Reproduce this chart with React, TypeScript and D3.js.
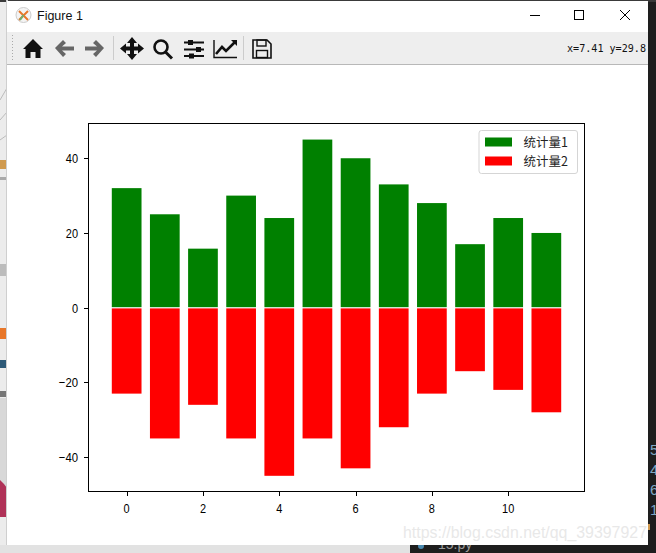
import React, { useMemo } from "react";
import * as d3 from "d3";

const categories = [0, 1, 2, 3, 4, 5, 6, 7, 8, 9, 10, 11];
const series1 = [32, 25, 15.8, 30, 24, 45, 40, 33, 28, 17, 24, 20];
const series2 = [-23, -35, -26, -35, -45, -35, -43, -32, -23, -17, -22, -28];
const xTicks = [0, 2, 4, 6, 8, 10];
const yTicks = [-40, -20, 0, 20, 40];
const legendLabels = ["统计量1", "统计量2"];
const title = "Figure 1";
const coords = "x=7.41 y=29.8";
const sideDigits = ["5", "4", "6", "1"];
const FONT = "'Noto Sans CJK SC', 'Liberation Sans', sans-serif";
const TICK = "'Liberation Sans', sans-serif";

const tickWidth = (s: string) => s.replace("−", "").length * 6.1 + (s.startsWith("−") ? 7 : 0);

function App() {
  const x = useMemo(() => d3.scaleLinear().domain([-1, 12]).range([88.5, 584.5]), []);
  const y = useMemo(() => d3.scaleLinear().domain([-49.2, 49.3]).range([491.5, 123.5]), []);
  const bw = x(0.8) - x(0) - 0.8;
  return (
    <svg width={656} height={553} style={{ position: "absolute", left: 0, top: 0, background: "#fff" }}>
      <defs>
        <filter id="soft"><feGaussianBlur stdDeviation="0.6" /></filter>
      </defs>
      {/* backdrop */}
      <rect x={0} y={0} width={656} height={553} fill="#ececec" />
      <rect x={648} y={0} width={8} height={553} fill="#1e1e1e" />
      <rect x={0} y={0} width={656} height={2} fill="#3a3a3a" />
      <rect x={0} y={545} width={410} height={8} fill="#e2e2e2" />
      <rect x={410} y={545} width={246} height={8} fill="#1e1e1e" />
      <g filter="url(#soft)">
        <rect x={0} y={264} width={7} height={12} fill="#bcbcbc" />
        <rect x={0} y={177} width={7} height={3} fill="#aaa" />
        <rect x={0} y={328} width={7} height={11} fill="#e8772a" />
        <rect x={0} y={360} width={7} height={8} fill="#2f5a78" />
        <rect x={0} y={391} width={7} height={6} fill="#777" />
        <rect x={0} y={398} width={7} height={90} fill="#d8d8d8" />
        <path d="M0 480 L4 484 L7 488 V517 H0 Z" fill="#b03058" />
        <rect x={0} y={160} width={7} height={9} fill="#d09a50" />
        <path d="M0 100 L7 88 M0 120 L7 112 M0 140 L7 135" stroke="#bbb" />
      </g>
      <text x={438} y={549} fontSize={14} fontFamily={TICK} fill="#9a9a9a">15.py</text>
      <circle cx={421} cy={546} r={3} fill="#4a8ab0" />
      <rect x={648} y={524} width={2} height={6} fill="#d09a50" />
      {sideDigits.map((d, i) => (
        <text key={i} x={650} y={455 + i * 20} fontSize={15} fontFamily={TICK} fill="#7fa8c4">{d}</text>
      ))}
      <line x1={7} x2={7} y1={0} y2={545} stroke="#cfcfcf" strokeWidth={2} />
      {/* window */}
      <rect x={7} y={1} width={641} height={544} fill="#fff" />
      <rect x={7} y={32} width={641} height={32} fill="#eeeeee" />
      <line x1={7} x2={648} y1={64.5} y2={64.5} stroke="#b8b8b8" />
      <circle cx={23.5} cy={15} r={7.5} fill="#f4f4f4" stroke="#ccc" />
      <path d="M19 11 L28 20 M28 11 L19 20" stroke="#e8772a" strokeWidth={2} />
      <path d="M23.5 15 L20 20" stroke="#70b070" strokeWidth={2} />
      <text x={37} y={20} fontSize={12.5} fontFamily={TICK} fill="#111">{title}</text>
      {/* window buttons */}
      <line x1={530} x2={540} y1={15.5} y2={15.5} stroke="#000" />
      <rect x={574.5} y={10.5} width={9} height={9} fill="none" stroke="#000" />
      <path d="M620 10 L630 20 M630 10 L620 20" stroke="#000" />
      {/* toolbar */}
      <line x1={12.5} x2={12.5} y1={35} y2={61} stroke="#aaa" strokeDasharray="1 2" />
      <path d="M33 39 L43 49 L40.5 49 L40.5 58 L35.5 58 L35.5 52 L30.5 52 L30.5 58 L25.5 58 L25.5 49 L23 49 Z" fill="#111" />
      <path d="M55 48 L63 40 L66 43 L62 46.5 L74 46.5 L74 50.5 L62 50.5 L66 54 L63 57 Z" fill="#666" />
      <path d="M104 48 L96 40 L93 43 L97 46.5 L85 46.5 L85 50.5 L97 50.5 L93 54 L96 57 Z" fill="#666" />
      <line x1={113.5} x2={113.5} y1={36} y2={60} stroke="#ccc" />
      <path d="M132 37 L137 43 L134 43 L134 46.5 L138 46.5 L138 43.5 L144 48.5 L138 53.5 L138 50.5 L134 50.5 L134 54 L137 54 L132 60 L127 54 L130 54 L130 50.5 L126 50.5 L126 53.5 L120 48.5 L126 43.5 L126 46.5 L130 46.5 L130 43 L127 43 Z" fill="#111" />
      <circle cx={161} cy={47} r={6.5} fill="none" stroke="#111" strokeWidth={2.6} />
      <line x1={165.5} y1={52} x2={172} y2={58.5} stroke="#111" strokeWidth={3} />
      <g stroke="#111" strokeWidth={2}>
        <line x1={184} x2={204} y1={42.5} y2={42.5} />
        <line x1={184} x2={204} y1={49.5} y2={49.5} />
        <line x1={184} x2={204} y1={56} y2={56} />
      </g>
      <rect x={188} y={40} width={5} height={5} fill="#111" />
      <rect x={196} y={47} width={5} height={5} fill="#111" />
      <rect x={189} y={53.5} width={5} height={5} fill="#111" />
      <path d="M214 40 V57.5 H237" fill="none" stroke="#111" strokeWidth={1.4} />
      <path d="M216 54 L222 47 L226 51 L235 42" fill="none" stroke="#111" strokeWidth={2.6} />
      <path d="M231 40 L237 40 L237 46 Z" fill="#111" />
      <line x1={243.5} x2={243.5} y1={36} y2={60} stroke="#ccc" />
      <path d="M253 40 H267 L271 44 V58 H253 Z" fill="none" stroke="#111" strokeWidth={1.6} />
      <rect x={257} y={40} width={9} height={6} fill="none" stroke="#111" strokeWidth={1.4} />
      <rect x={256.5} y={50.5} width={11} height={7} fill="none" stroke="#111" strokeWidth={1.4} />
      <text x={567} y={52} fontSize={10} fontFamily="'DejaVu Sans Mono', monospace" textLength={79} lengthAdjust="spacingAndGlyphs" fill="#111">{coords}</text>
      {/* bars */}
      {categories.map((c, i) => (
        <rect key={"a" + c} x={x(c) - bw / 2} width={bw} y={y(series1[i])} height={y(0) - y(series1[i]) - 0.5} fill="green" />
      ))}
      {categories.map((c, i) => (
        <rect key={"b" + c} x={x(c) - bw / 2} width={bw} y={y(0) + 0.7} height={y(series2[i]) - y(0) - 0.7} fill="red" />
      ))}
      {/* axes */}
      <rect x={88.5} y={123.5} width={496} height={368} fill="none" stroke="#000" />
      {xTicks.map((t) => (
        <g key={t}>
          <line x1={Math.round(x(t)) + 0.5} x2={Math.round(x(t)) + 0.5} y1={491.5} y2={496} stroke="#000" />
          <text x={x(t)} y={513} textAnchor="middle" fontSize={13.5} textLength={tickWidth(String(t))} lengthAdjust="spacingAndGlyphs" fontFamily={TICK} fill="#000">{t}</text>
        </g>
      ))}
      {yTicks.map((t) => {
        const s = t < 0 ? "−" + Math.abs(t) : String(t);
        return (
          <g key={t}>
            <line x1={84} x2={88.5} y1={Math.round(y(t)) + 0.5} y2={Math.round(y(t)) + 0.5} stroke="#000" />
            <text x={78 - tickWidth(s)} y={y(t) + 5} fontSize={13.5} textLength={tickWidth(s)} lengthAdjust="spacingAndGlyphs" fontFamily={TICK} fill="#000">{s}</text>
          </g>
        );
      })}
      {/* legend */}
      <rect x={479} y={130.5} width={98.5} height={43} rx={2.5} fill="#fff" fillOpacity={0.8} stroke="#d5d5d5" />
      {legendLabels.map((l, i) => (
        <g key={l}>
          <rect x={485} y={137.5 + i * 19} width={27} height={9} fill={i === 0 ? "green" : "red"} />
          <text x={523.5} y={146.5 + i * 19} fontSize={12.5} fontFamily={FONT} fill="#222">{l}</text>
        </g>
      ))}
      {/* watermark */}
      <text x={403} y={538} fontSize={17} textLength={244} lengthAdjust="spacingAndGlyphs" fontFamily={TICK} fill="#e4e4e4" fillOpacity={0.85}>https://blog.csdn.net/qq_39397927</text>
    </svg>
  );
}

export default App;
